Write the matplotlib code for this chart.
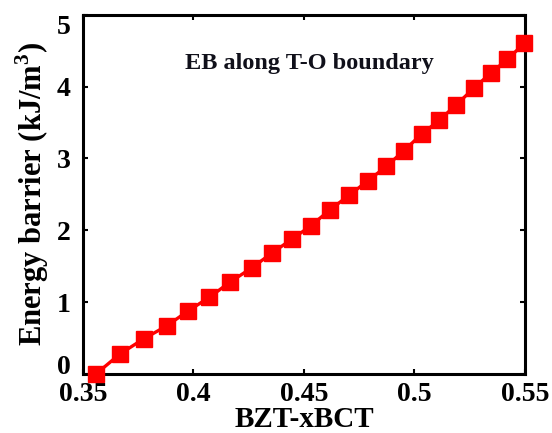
import numpy as np
import matplotlib
matplotlib.use("Agg")
import matplotlib.pyplot as plt

# BZT-xBCT composition and energy barrier along T-O boundary
x = [0.3559, 0.3668, 0.3775, 0.3879, 0.3977, 0.4073, 0.4166, 0.4265,
     0.4358, 0.4447, 0.4530, 0.4620, 0.4705, 0.4790, 0.4873, 0.4953,
     0.5033, 0.5112, 0.5190, 0.5270, 0.5346, 0.5421, 0.5496]
eb = [0.0, 0.28, 0.49, 0.67, 0.88, 1.07, 1.28, 1.48,
      1.69, 1.88, 2.06, 2.29, 2.49, 2.69, 2.89, 3.11,
      3.34, 3.53, 3.75, 3.98, 4.19, 4.38, 4.60]
xticks = [0.35, 0.4, 0.45, 0.5, 0.55]
xticklabels = ['0.35', '0.4', '0.45', '0.5', '0.55']
yticks = [0, 1, 2, 3, 4, 5]

plt.rcParams['font.family'] = ['Liberation Serif', 'DejaVu Serif']
plt.rcParams['font.weight'] = 'bold'
plt.rcParams['mathtext.fontset'] = 'custom'
plt.rcParams['mathtext.rm'] = 'Liberation Serif:bold'

fig = plt.figure(figsize=(5.52, 4.33), dpi=100)
ax = fig.add_axes([0.150, 0.136, 0.801, 0.830])

ax.plot(x, eb, color='#ff0000', lw=2.4, marker='s', ms=11, mec='#ff0000',
        clip_on=False, zorder=3)

ax.set_xlim(0.35, 0.55)
ax.set_ylim(0, 5)
ax.set_xticks(xticks)
ax.set_xticklabels(xticklabels)
ax.set_yticks(yticks)
ax.tick_params(direction='in', top=True, right=True, length=3.5, width=1.5, labelsize=20)
ax.tick_params(axis='x', pad=6)
ax.tick_params(axis='y', pad=9)
for s in ax.spines.values():
    s.set_linewidth(2.2)

# end labels sit inside the axis range, as in the original
ylabs = ax.get_yticklabels()
ylabs[0].set_va('baseline')
ylabs[-1].set_va('top')

ax.set_xlabel('BZT-xBCT', fontsize=21, fontweight='bold', labelpad=-1)
ax.set_ylabel('Energy barrier (kJ/m$^3$)', fontsize=22, fontweight='bold', labelpad=4)
ax.text(0.4527, 4.32, 'EB along T-O boundary', fontsize=17.5, fontweight='bold',
        color='#10101a', ha='center', va='center')

fig.savefig('out.png', dpi=100)
